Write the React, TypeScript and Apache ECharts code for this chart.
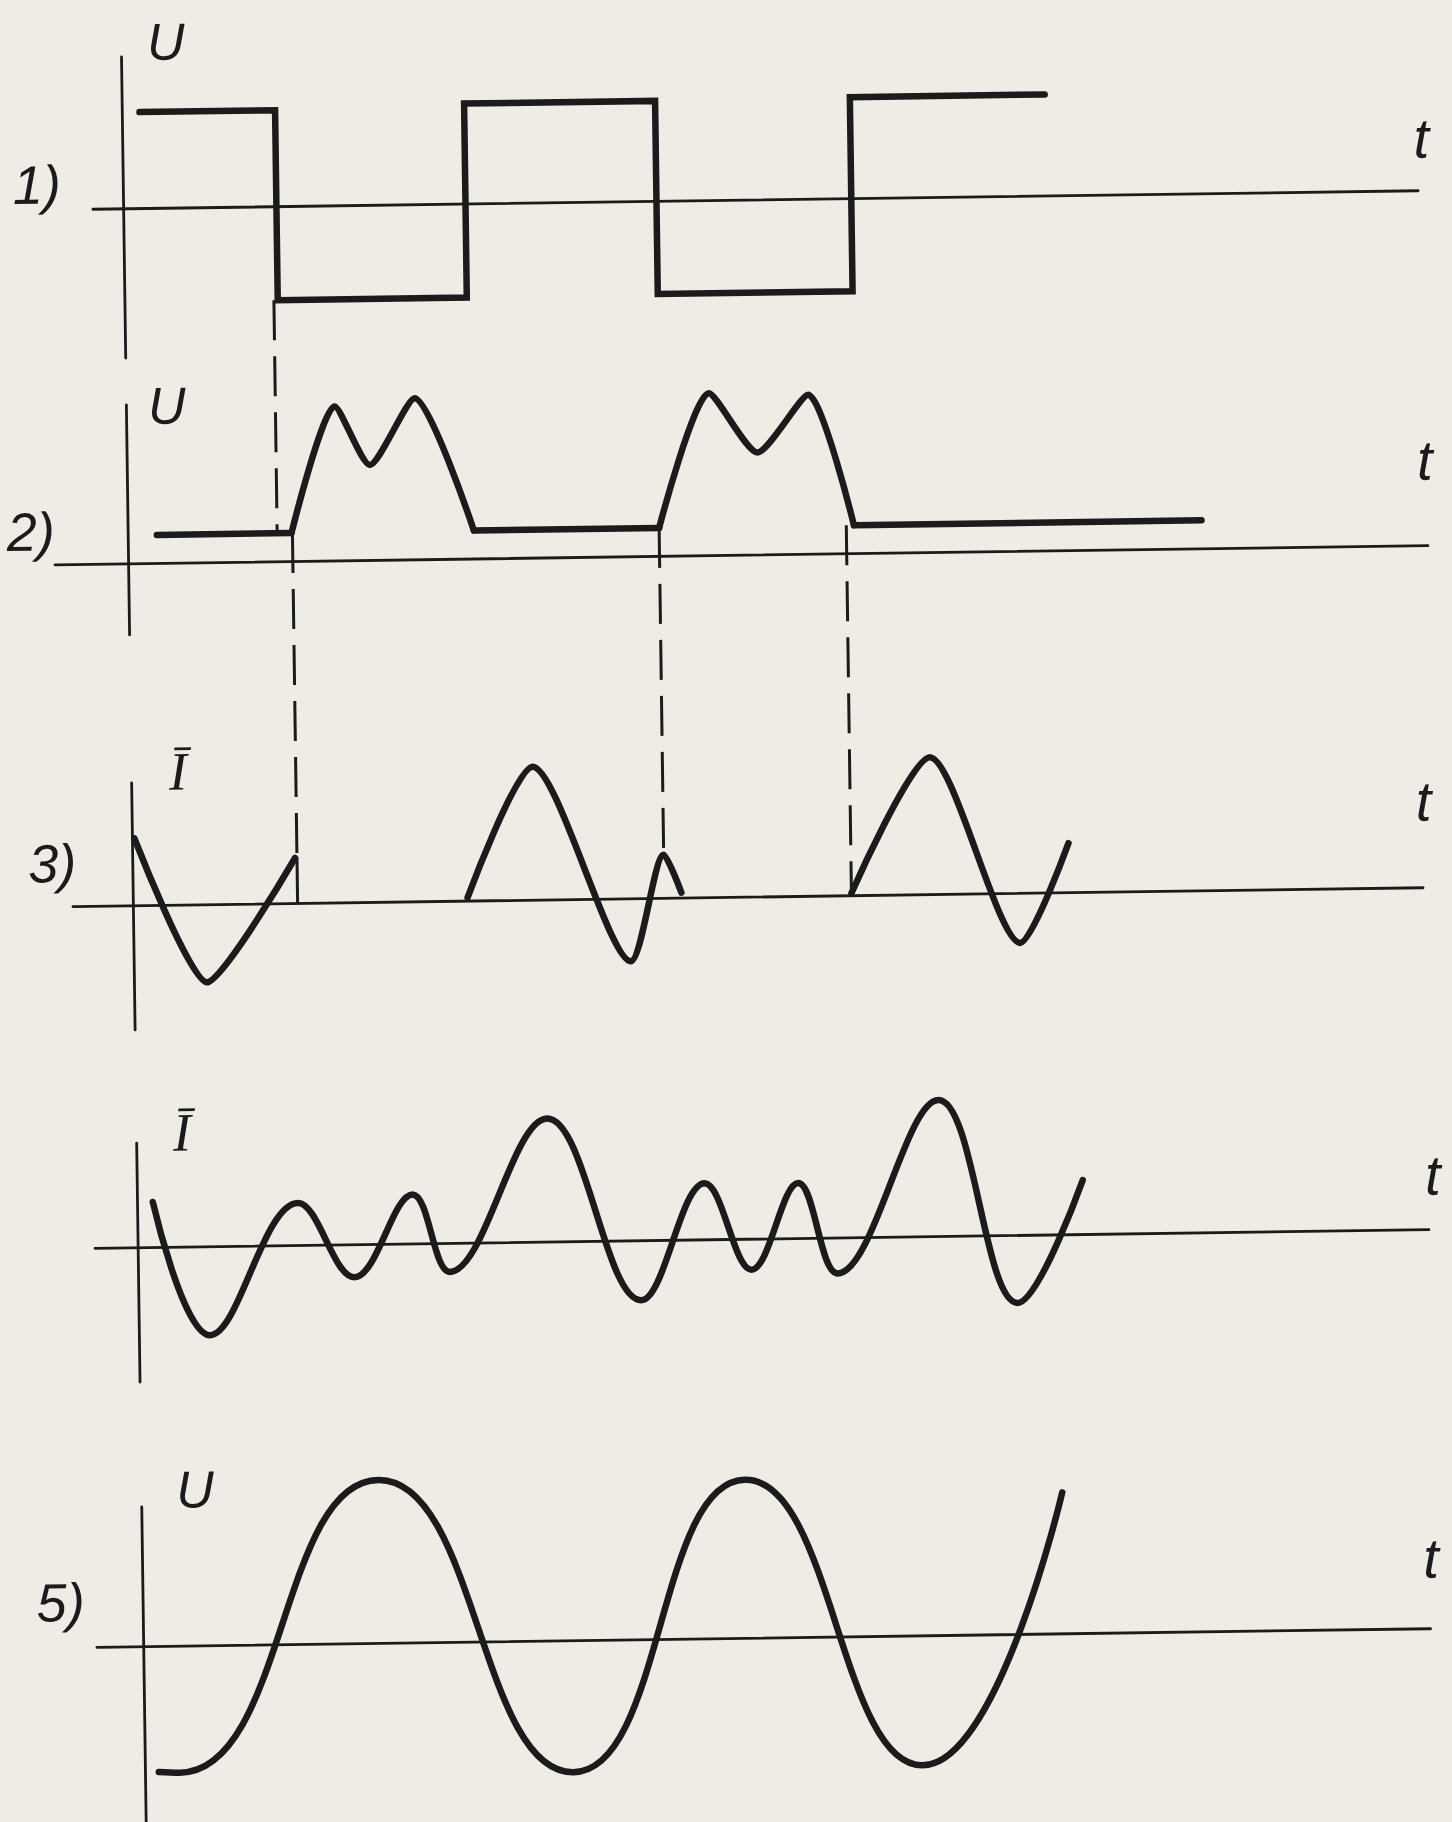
import React, { useEffect, useRef } from "react";
import * as echarts from "echarts";

const W = 1452;
const H = 1822;
const PAPER = "#efece5";
const INK = "#1b1b1b";

// Shared scales: time unit and value unit in pixels, time origin at the value axes
const PX_PER_T = 191;
const T_ORIGIN_X = 133.5;
const PX_PER_V = 100;

// 1) rectangular voltage: switching instants and the level held between them
const squareEdges = [0.09, 0.8, 1.79, 2.79, 3.81, 4.83];
const squareLevels = [0.96, -0.94, 1.0, -0.93, 1.01];

// 2) double-humped pulses on a constant base
const pulseBase = 0.28;
const baseSpans = [
  [0.15, 0.855],
  [1.81, 2.78],
  [3.8, 5.62],
];
const pulseA = [
  [0.855, 0.28],
  [1.09, 1.54],
  [1.27, 0.95],
  [1.51, 1.61],
  [1.81, 0.28],
];
const pulseB = [
  [2.78, 0.28],
  [3.05, 1.62],
  [3.3, 1.02],
  [3.57, 1.59],
  [3.8, 0.28],
];

// 3) current, three pieces interrupted at the switching instants
const current3a = [
  [0.01, 0.67],
  [0.38, -0.78],
  [0.85, 0.45],
];
const current3Drop = [
  [0.86, 0.45],
  [0.86, 0],
];
const current3b = [
  [1.75, 0.03],
  [2.1, 1.33],
  [2.6, -0.63],
  [2.78, 0.43],
  [2.87, 0.05],
];
const current3c = [
  [3.76, 0.02],
  [4.18, 1.37],
  [4.64, -0.5],
  [4.9, 0.49],
];

// 4) current with superposed ripple: start, turning points, end
const current4 = [
  [0.08, 0.45],
  [0.37, -0.89],
  [0.84, 0.42],
  [1.13, -0.33],
  [1.44, 0.49],
  [1.63, -0.29],
  [2.15, 1.23],
  [2.63, -0.6],
  [2.97, 0.56],
  [3.21, -0.31],
  [3.46, 0.55],
  [3.66, -0.36],
  [4.2, 1.36],
  [4.6, -0.68],
  [4.95, 0.54],
];

// 5) output voltage: start, turning points, end
const voltage5 = [
  [0.07, -1.26],
  [0.18, -1.27],
  [1.24, 1.63],
  [2.24, -1.32],
  [3.16, 1.58],
  [4.07, -1.3],
  [4.82, 1.41],
];

// Dashed projection lines: instant, start [trace, value], end [trace, value]
const projections = [
  { t: 0.78, from: [0, -0.94], to: [1, 0.28] },
  { t: 0.86, from: [1, 0.28], to: [2, 0.45] },
  { t: 2.78, from: [1, 0.28], to: [2, 0.43] },
  { t: 3.76, from: [1, 0.28], to: [2, 0] },
];

const valueNames = ["U", "U", "\u012A", "\u012A", "U"];
const timeName = "t";
const traceNumbers = ["1)", "2)", "3)", "", "5)"];

// Frame of each trace: extent of its time axis and value axis, and the zero line
const panels = [
  { axisLeft: 102.8, axisRight: 1428.1, axisTop: 48.6, axisBottom: 349.7, zeroY: 200 },
  { axisLeft: 59.9, axisRight: 1433, axisTop: 396.6, axisBottom: 626.6, zeroY: 555 },
  { axisLeft: 73.1, axisRight: 1423.3, axisTop: 774.7, axisBottom: 1021.7, zeroY: 897 },
  { axisLeft: 90.4, axisRight: 1424.4, axisTop: 1134.8, axisBottom: 1373.8, zeroY: 1239 },
  { axisLeft: 86.7, axisRight: 1420.5, axisTop: 1498.8, axisBottom: 1822, zeroY: 1638 },
];

const labelLayout = [
  { name: [178, 34], t: [1432, 148], num: [47, 175] },
  { name: [174, 398], t: [1431, 470], num: [36, 522] },
  { name: [180, 764], t: [1425, 811], num: [53, 854] },
  { name: [179, 1125], t: [1429, 1185], num: [0, 0] },
  { name: [187, 1482], t: [1422, 1568], num: [51, 1593] },
];

const SANS = '"Liberation Sans", "DejaVu Sans", sans-serif';
const SERIF = '"Liberation Serif", "DejaVu Serif", serif';

type Pt = number[];

function line(panel: number, data: Pt[], opts: any = {}) {
  return {
    type: "line",
    xAxisIndex: panel,
    yAxisIndex: panel,
    data,
    symbol: "none",
    showSymbol: false,
    clip: false,
    silent: true,
    smooth: opts.smooth ?? false,
    z: opts.z ?? 3,
    lineStyle: {
      color: INK,
      width: opts.width ?? 6.5,
      type: opts.dash ?? "solid",
      cap: opts.cap ?? "round",
      join: opts.join ?? "round",
    },
  };
}

function buildOption() {
  const axisLine = { show: true, onZero: true, lineStyle: { color: INK, width: 2.8 } };
  const hidden = {
    axisTick: { show: false },
    axisLabel: { show: false },
    splitLine: { show: false },
  };

  const grid = panels.map((p) => ({
    left: p.axisLeft,
    right: W - p.axisRight,
    top: p.axisTop,
    bottom: H - p.axisBottom,
    containLabel: false,
  }));
  const xAxis = panels.map((p, i) => ({
    type: "value",
    gridIndex: i,
    min: (p.axisLeft - T_ORIGIN_X) / PX_PER_T,
    max: (p.axisRight - T_ORIGIN_X) / PX_PER_T,
    axisLine,
    ...hidden,
  }));
  const yAxis = panels.map((p, i) => ({
    type: "value",
    gridIndex: i,
    min: (p.zeroY - p.axisBottom) / PX_PER_V,
    max: (p.zeroY - p.axisTop) / PX_PER_V,
    axisLine,
    ...hidden,
  }));

  const series: any[] = [];

  // 1) rectangular wave
  const square: Pt[] = [];
  squareLevels.forEach((lv, i) => {
    square.push([squareEdges[i], lv], [squareEdges[i + 1], lv]);
  });
  series.push(line(0, square, { width: 6.5, join: "miter" }));

  // 2) base line and pulses
  baseSpans.forEach(([a, b]) => series.push(line(1, [[a, pulseBase], [b, pulseBase]])));
  series.push(line(1, pulseA, { smooth: 0.22 }));
  series.push(line(1, pulseB, { smooth: 0.22 }));

  // 3) current pieces
  series.push(line(2, current3a, { smooth: 0.2 }));
  series.push(line(2, current3b, { smooth: 0.25 }));
  series.push(line(2, current3c, { smooth: 0.25 }));
  series.push(line(2, current3Drop, { width: 3, cap: "butt" }));

  // 4) and 5)
  series.push(line(3, current4, { smooth: 0.38 }));
  series.push(line(4, voltage5, { smooth: 0.5 }));

  // dashed projections drawn in the upper trace's scale
  projections.forEach((pr) => {
    const [up, vUp] = pr.from;
    const [lo, vLo] = pr.to;
    const yPx = panels[lo].zeroY - vLo * PX_PER_V;
    const vEnd = (panels[up].zeroY - yPx) / PX_PER_V;
    series.push(
      line(up, [[pr.t, vUp], [pr.t, vEnd]], { width: 3, dash: [40, 16], cap: "butt", z: 2 })
    );
  });

  const textStyle = (text: string, font: string) => ({
    text,
    font,
    fill: INK,
    textAlign: "center",
    textVerticalAlign: "middle",
    align: "center",
    verticalAlign: "middle",
  });

  const graphic: any[] = [];
  labelLayout.forEach((l, i) => {
    const isCurrent = valueNames[i] !== "U";
    graphic.push({
      type: "text",
      x: l.name[0],
      y: l.name[1],
      silent: true,
      style: textStyle(
        valueNames[i],
        isCurrent ? `italic 54px ${SERIF}` : `italic 52px ${SANS}`
      ),
    });
    graphic.push({
      type: "text",
      x: l.t[0],
      y: l.t[1],
      silent: true,
      style: textStyle(timeName, `italic 56px ${SANS}`),
    });
    if (traceNumbers[i]) {
      graphic.push({
        type: "text",
        x: l.num[0],
        y: l.num[1],
        silent: true,
        style: textStyle(traceNumbers[i], `italic 54px ${SANS}`),
      });
    }
  });

  return {
    animation: false,
    backgroundColor: PAPER,
    grid,
    xAxis,
    yAxis,
    series,
    graphic,
  };
}

export default function App() {
  const ref = useRef<HTMLDivElement>(null);
  useEffect(() => {
    if (!ref.current) return;
    const chart = echarts.init(ref.current, null, { renderer: "svg", width: W, height: H });
    chart.setOption(buildOption() as any);
    return () => chart.dispose();
  }, []);
  return (
    <div
      style={{
        position: "absolute",
        left: 0,
        top: 0,
        width: W,
        height: H,
        overflow: "hidden",
        background: PAPER,
      }}
    >
      <div
        ref={ref}
        style={{ width: W, height: H, transform: "rotate(-0.8deg)", transformOrigin: "50% 50%" }}
      />
    </div>
  );
}
